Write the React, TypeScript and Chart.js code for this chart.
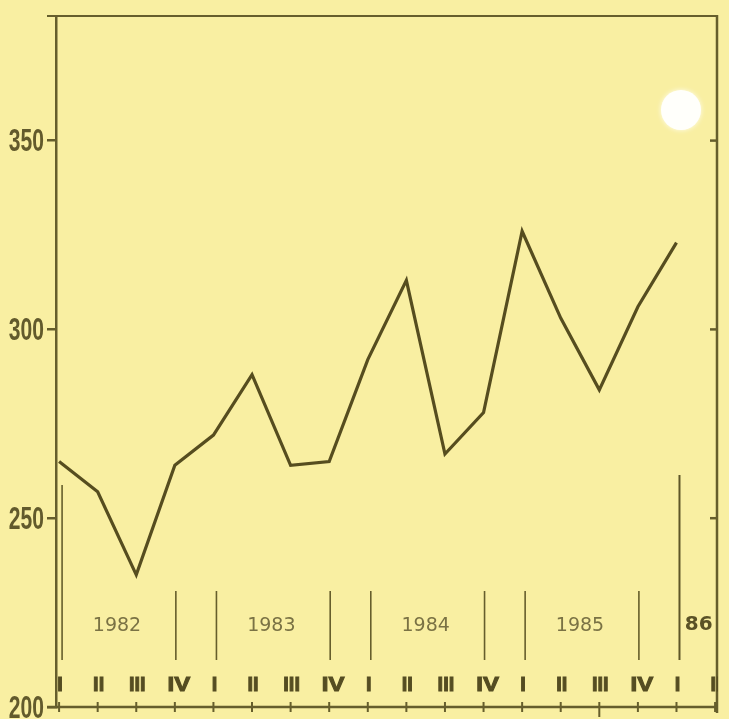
import React, { useEffect, useRef } from 'react';
import { Chart, registerables } from 'chart.js';

Chart.register(...registerables);

// ---- data ----
const quarterLabels = ['I', 'II', 'III', 'IV', 'I', 'II', 'III', 'IV', 'I', 'II', 'III', 'IV', 'I', 'II', 'III', 'IV', 'I', 'II'];
const values = [265, 257, 235, 264, 272, 288, 264, 265, 292, 313, 267, 278, 326, 303, 284, 306, 323];
const yearLabels = ['1982', '1983', '1984', '1985', '86'];
const yearStarts = [0, 4, 8, 12, 16];
const yearEnds = [3, 7, 11, 15, 17];
const yTicks = [200, 250, 300, 350];

// ---- style ----
const BG = '#F9EFA2';
const AXIS = '#665E2C';
const LINE = '#564D1F';
const TEXT = '#625A2C';
const QTEXT = '#554D22';
const YEAR_TEXT = '#7A7244';

const decor = {
  id: 'decor',
  beforeDraw(chart: any) {
    const { ctx, width, height } = chart;
    ctx.save();
    ctx.fillStyle = BG;
    ctx.fillRect(0, 0, width, height);
    ctx.restore();
  },
  afterDraw(chart: any) {
    const { ctx, chartArea: a } = chart;
    const x = chart.scales.x;
    const y = chart.scales.y;
    const seg = (x1: number, y1: number, x2: number, y2: number, w: number, c = AXIS) => {
      ctx.beginPath();
      ctx.strokeStyle = c;
      ctx.lineWidth = w;
      ctx.moveTo(x1, y1);
      ctx.lineTo(x2, y2);
      ctx.stroke();
    };
    ctx.save();
    // frame
    seg(47, a.top, a.right + 1, a.top, 2);
    seg(a.right, a.top - 1, a.right, a.bottom + 6, 2.5);
    seg(47, a.bottom, a.right + 1, a.bottom, 2.5);
    // bottom ticks
    quarterLabels.forEach((_, i) => {
      const px = x.getPixelForValue(i);
      const long = i === 14;
      seg(px, a.bottom - 5, px, a.bottom + (long ? 10 : 5), 2);
    });
    // right-side ticks
    yTicks.slice(1).forEach((v) => {
      const py = y.getPixelForValue(v);
      seg(a.right - 7, py, a.right, py, 2.5);
    });
    // y tick labels (condensed)
    ctx.fillStyle = TEXT;
    ctx.textAlign = 'right';
    ctx.textBaseline = 'middle';
    yTicks.forEach((v) => {
      const py = y.getPixelForValue(v);
      ctx.save();
      ctx.translate(44, py + 2);
      ctx.scale(0.68, 1);
      ctx.font = 'bold 31px "Liberation Sans Narrow", "Liberation Sans", sans-serif';
      ctx.fillText(String(v), 0, 0);
      ctx.restore();
    });
    // quarter labels
    ctx.save();
    ctx.beginPath();
    ctx.rect(a.left + 1, a.top, a.right - a.left, a.bottom - a.top);
    ctx.clip();
    ctx.fillStyle = QTEXT;
    ctx.strokeStyle = QTEXT;
    ctx.lineWidth = 1;
    ctx.textAlign = 'center';
    ctx.textBaseline = 'middle';
    ctx.font = 'bold 20px "Liberation Sans", sans-serif';
    quarterLabels.forEach((q, i) => {
      const px = x.getPixelForValue(i) + (q === 'IV' ? 4 : 1);
      ctx.save();
      ctx.translate(px, a.bottom - 22);
      if (q === 'IV') ctx.scale(1.2, 1);
      ctx.fillText(q, 0, 0);
      ctx.strokeText(q, 0, 0);
      ctx.restore();
    });
    ctx.restore();
    // year boxes
    const lineBottom = a.bottom - 47;
    const lineTop = a.bottom - 116;
    yearLabels.forEach((lab, k) => {
      const s = x.getPixelForValue(yearStarts[k]) + 3;
      const e = x.getPixelForValue(yearEnds[k]) + 1;
      const isFirst = k === 0;
      const isLast = k === yearLabels.length - 1;
      const topS = isFirst ? a.bottom - 222 : isLast ? a.bottom - 232 : lineTop;
      seg(s, topS, s, lineBottom, isLast ? 2 : 1.6, isLast ? '#5E5628' : AXIS);
      if (!isLast) seg(e, lineTop, e, lineBottom, 1.6);
      const cx = (x.getPixelForValue(yearStarts[k]) + x.getPixelForValue(yearEnds[k])) / 2;
      ctx.textAlign = 'center';
      ctx.textBaseline = 'middle';
      if (isLast) {
        ctx.fillStyle = '#5A5226';
        ctx.font = 'bold 20px "DejaVu Sans", sans-serif';
        ctx.fillText(lab, cx + 3, a.bottom - 82);
      } else {
        ctx.fillStyle = YEAR_TEXT;
        ctx.font = '19px "DejaVu Sans", sans-serif';
        ctx.fillText(lab, cx, a.bottom - 81);
      }
    });
    // punched hole
    ctx.beginPath();
    ctx.shadowColor = 'rgba(255,255,250,0.9)';
    ctx.shadowBlur = 5;
    ctx.fillStyle = '#FFFFFB';
    ctx.arc(681, 110, 20, 0, Math.PI * 2);
    ctx.fill();
    ctx.restore();
  },
};

export default function App() {
  const ref = useRef<HTMLCanvasElement | null>(null);
  useEffect(() => {
    if (!ref.current) return;
    const chart = new Chart(ref.current, {
      type: 'line',
      data: {
        datasets: [
          {
            data: values.map((v, i) => ({ x: i, y: v })),
            borderColor: LINE,
            borderWidth: 3.2,
            pointRadius: 0,
            tension: 0,
            fill: false,
            borderJoinStyle: 'miter',
          },
        ],
      },
      options: {
        animation: false,
        responsive: false,
        devicePixelRatio: 1,
        layout: { padding: { left: 16, right: 12, top: 16, bottom: 12 } },
        plugins: { legend: { display: false }, tooltip: { enabled: false } },
        scales: {
          x: {
            type: 'linear',
            min: -0.08,
            max: 17.05,
            display: false,
          },
          y: {
            type: 'linear',
            min: 200,
            max: 383,
            afterBuildTicks: (scale: any) => {
              scale.ticks = yTicks.map((v) => ({ value: v }));
            },
            afterFit: (scale: any) => {
              scale.width = 40;
            },
            ticks: { display: false },
            grid: {
              drawOnChartArea: false,
              drawTicks: true,
              tickLength: 9,
              color: AXIS,
              lineWidth: 2.5,
            },
            border: { display: true, color: AXIS, width: 2.5 },
          },
        },
      },
      plugins: [decor],
    } as any);
    return () => chart.destroy();
  }, []);
  return (
    <div style={{ position: 'absolute', left: 0, top: 0, width: 729, height: 719, background: BG }}>
      <canvas ref={ref} width={729} height={719} style={{ display: 'block' }} />
    </div>
  );
}
